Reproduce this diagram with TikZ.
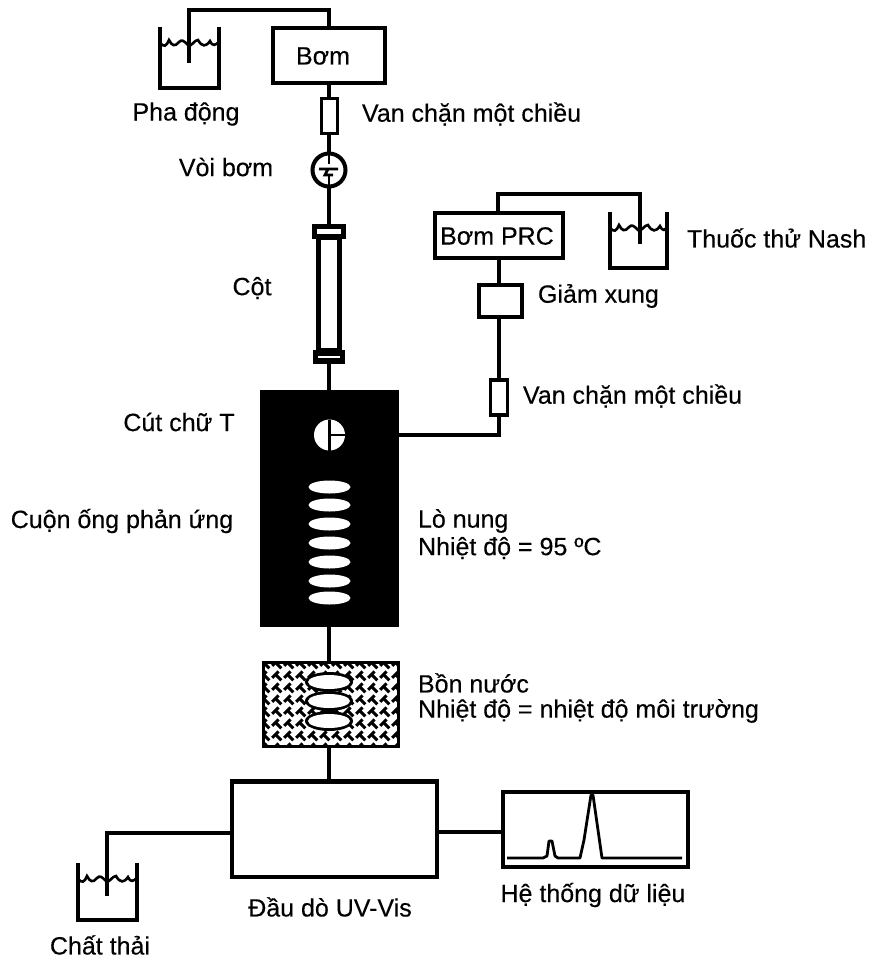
\documentclass[tikz,border=0pt]{standalone}
\usepackage{fontspec}
\setmainfont{Liberation Sans}
\newfontfamily\labfont{Liberation Sans}[FakeBold=0.3]
\usetikzlibrary{shapes.geometric}
\tikzset{
  boxa/.style={draw=black,line width=3.6pt,fill=white,rectangle,inner sep=0pt,outer sep=0pt},
  pipe/.style={draw=black,line width=3.2pt,line join=miter},
  lab/.style={font=\labfont\fontsize{25}{29}\selectfont,inner sep=0pt,outer sep=0pt,text=black},
  coil/.style={ellipse,fill=white,draw=none,inner sep=0pt,outer sep=0pt,minimum width=42pt,minimum height=13pt},
  bcoil/.style={ellipse,fill=white,draw=none,inner sep=0pt,outer sep=0pt,minimum width=42pt,minimum height=14pt},
  bhalo/.style={ellipse,fill=black,draw=none,inner sep=0pt,outer sep=0pt,minimum width=48pt,minimum height=20pt},
  pics/tank/.style args={#1/#2}{code={
    \draw[line width=3.4pt,line cap=butt] (0,0) -- (0,#2) -- (#1,#2) -- (#1,0);
    \draw[line width=2.6pt] (0,16) .. controls (4,20) and (6,20) .. (9,13) .. controls (12,19) and (15,20) .. (19,15)
      .. controls (22,12) and (24,14) .. (28,18) .. controls (32,20) and (34,13) .. (38,13) .. controls (42,20) and (46,20) .. (50,14) .. controls (53,20) and (55,18) .. (#1,15);
  }}
}
\begin{document}
\begin{tikzpicture}[x=1pt,y=-1pt]
\useasboundingbox (0,0) rectangle (872,962);
% left tank & pump
\pic at (160,27) {tank={59/61}};
\node[boxa,minimum width=112pt,minimum height=55pt] (pump) at (329,55.5) {};
\node[lab] (pumpt) at (323,56) {Bơm};
\coordinate (c1a) at (329,10);
\coordinate (c1b) at (189,10);
\coordinate (c1c) at (189,63);
\draw[pipe] (pump.north) -- (c1a) -- (c1b) -- (c1c);
% connectors of the main line first
\coordinate (inja) at (329,170);
\draw[pipe] (pump.south) -- (inja) -- (329,231);
% valve, injector, column
\node[boxa,line width=3pt,minimum width=16pt,minimum height=35pt] (valve1) at (329,115.5) {};
\node[circle,draw=black,line width=4pt,fill=white,minimum size=33pt,inner sep=0pt,outer sep=0pt] (inj) at (inja) {};
\node[boxa,line width=5pt,minimum width=29pt,minimum height=10pt] (captop) at (329,231.5) {};
\node[rectangle,draw=black,line width=4.5pt,fill=white,minimum width=21pt,minimum height=112pt,inner sep=0pt,outer sep=0pt] (column) at (329,294) {};
\node[rectangle,fill=black,minimum width=32pt,minimum height=14pt,inner sep=0pt,outer sep=0pt] (capbot) at (329,357) {};
\draw[white,line width=1.5pt] (capbot.west)++(5,0) -- ++(22,0);
\draw[line width=2.6pt] (inj.north) -- ++(0,10) (inj.south) -- ++(0,-12);
\draw[line width=2.8pt] (inj.center)++(-10,-1) -- ++(19,0) ++(-10,0) -- ++(-3,6) -- ++(8,0);
% furnace
\node[rectangle,fill=black,minimum width=139pt,minimum height=237pt,inner sep=0pt,outer sep=0pt] (furn) at (329.5,508) {};
\node[circle,fill=white,minimum size=31pt,inner sep=0pt,outer sep=0pt] (tee) at (329.5,435) {};
\draw[line width=2.4pt] (tee.north) -- (tee.south);
\draw[line width=2.4pt] (tee.center) -- (tee.east);
\foreach \i/\yy in {1/487,2/505,3/524,4/543,5/562,6/581,7/598}
  \node[coil] (coil\i) at (329.5,\yy) {};
\draw[pipe] (capbot.south) -- (capbot.south |- furn.north);
% water bath
\node[rectangle,draw=black,line width=3.8pt,fill=white,minimum width=135pt,minimum height=84pt,inner sep=0pt,outer sep=0pt] (bath) at (331,704.5) {};
\begin{scope}
  \clip (bath.south west) rectangle (bath.north east);
  \foreach \k in {-108,-96,...,252}{
    \draw[line width=3pt,dash pattern=on 9pt off 7.97pt] (263+\k,662) -- ++(90,90);
    \draw[line width=3pt,dash pattern=on 9pt off 7.97pt,dash phase=4pt] (263+\k,747) -- ++(90,-90);
  }
\end{scope}
\draw[black,line width=3.8pt] (bath.south west) rectangle (bath.north east);
\node[bhalo] (bh1) at (329,682) {};
\node[bhalo] (bh2) at (329,701) {};
\node[bhalo] (bh3) at (329,721) {};
\node[bcoil] (b1) at (329,682) {};
\node[bcoil] (b2) at (329,701) {};
\node[bcoil] (b3) at (329,721) {};
\coordinate (m1) at (329,662);
\draw[pipe] (m1 |- furn.south) -- (m1);
% detector
\coordinate (m2) at (329,748);
\node[boxa,line width=3.4pt,minimum width=205pt,minimum height=96pt] (det) at (334.5,829) {};
\draw[line width=5pt] (det.north west) -- (det.north east);
\draw[line width=4.6pt] (det.south west) -- (det.south east);
\draw[pipe] (m2) -- (m2 |- det.north);
\node[boxa,line width=3.8pt,minimum width=185pt,minimum height=75pt] (data) at (595.5,829.5) {};
\coordinate (dl) at (470,832);
\draw[pipe,line width=4pt] (det.east |- dl) -- (data.west |- dl);
\coordinate (d0) at (507,858);
\coordinate (d1) at (682,858);
\draw[line width=2.8pt,line join=round] (d0) -- (543,858) -- (547,856) -- (549,841) -- (552,841) -- (555,856) -- (558,858) -- (580,858) -- (584,840) -- (591,795) -- (593,795) -- (602,858) -- (d1);
% waste
\pic at (78,863) {tank={59/57}};
\coordinate (w1) at (107,833);
\coordinate (w2) at (107,896);
\draw[pipe] (det.west |- w1) -- (w1) -- (w2);
% PRC side
\pic at (610,212) {tank={57/56}};
\coordinate (p5) at (499,300);
\coordinate (p4) at (499,435);
\draw[pipe] (p5 |- 0,258) -- (p4) -- (furn.east |- p4);
\node[boxa,minimum width=128pt,minimum height=45pt] (prc) at (499,235.5) {};
\node[lab] (prct) at (497,236) {Bơm PRC};
\coordinate (p1) at (498,194);
\coordinate (p2) at (640,194);
\coordinate (p3) at (640,244);
\draw[pipe] (p1 |- prc.north) -- (p1) -- (p2) -- (p3);
\node[boxa,minimum width=43pt,minimum height=32pt] (damp) at (500.5,301) {};
\node[boxa,minimum width=17pt,minimum height=35pt] (valve2) at (499,397.5) {};
% labels
\node[lab] (l1) at (186,114) {Pha động};
\node[lab,anchor=west] (l2) at (362,114) {Van chặn một chiều};
\node[lab] (l3) at (226,167) {Vòi bơm};
\node[lab] (l4) at (252,288) {Cột};
\node[lab] (l5) at (179,422) {Cút chữ T};
\node[lab] (l6) at (122,521) {Cuộn ống phản ứng};
\node[lab,anchor=west] (l7) at (418,521) {Lò nung};
\node[lab,anchor=west] (l8) at (418,548) {Nhiệt độ = 95 ºC};
\node[lab,anchor=west] (l9) at (418,683) {Bồn nước};
\node[lab,anchor=west] (l10) at (418,711) {Nhiệt độ = nhiệt độ môi trường};
\node[lab,anchor=west] (l11) at (687,238) {Thuốc thử Nash};
\node[lab,anchor=west] (l12) at (538,296) {Giảm xung};
\node[lab,anchor=west] (l13) at (523,396) {Van chặn một chiều};
\node[lab] (l14) at (330,907) {Đầu dò UV-Vis};
\node[lab] (l15) at (593,895) {Hệ thống dữ liệu};
\node[lab] (l16) at (100,945) {Chất thải};
\end{tikzpicture}
\end{document}
